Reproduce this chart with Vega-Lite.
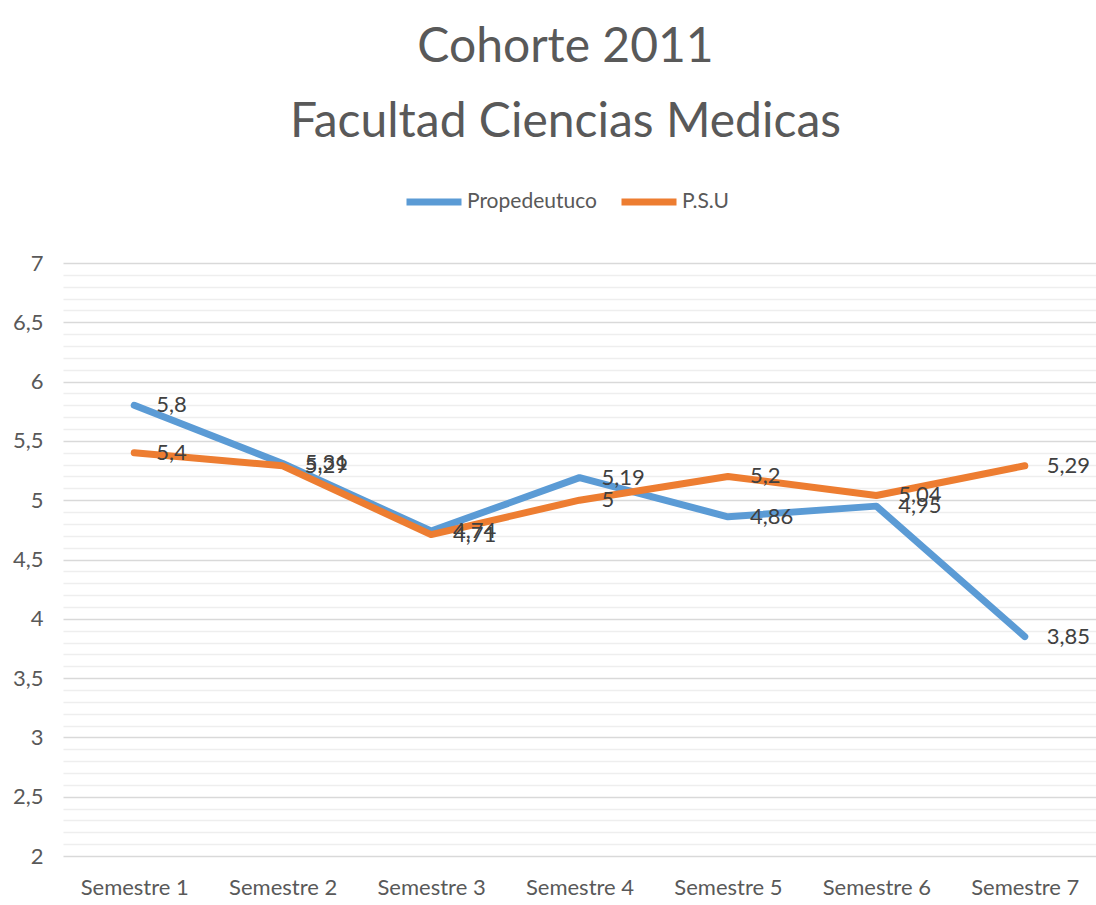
{
  "$schema": "https://vega.github.io/schema/vega-lite/v6.json",
  "width": 1033,
  "height": 593,
  "autosize": {"type": "none"},
  "padding": {"left": 63, "top": 263, "right": 0, "bottom": 49},
  "background": "white",
  "config": {
    "view": {"stroke": null},
    "font": "Lato",
    "locale": {"number": {"decimal": ",", "thousands": ".", "grouping": [3], "currency": ["$", ""]}}
  },
  "title": {
    "text": ["Cohorte 2011", "Facultad Ciencias Medicas"],
    "font": "Lato",
    "fontSize": 48,
    "fontWeight": "normal",
    "color": "#595959",
    "lineHeight": 75,
    "baseline": "alphabetic",
    "anchor": "middle",
    "frame": "group",
    "offset": -14,
    "dx": -14
  },
  "data": {
    "values": [
      {"semestre": "Semestre 1", "serie": "Propedeutuco", "valor": 5.8},
      {"semestre": "Semestre 2", "serie": "Propedeutuco", "valor": 5.31},
      {"semestre": "Semestre 3", "serie": "Propedeutuco", "valor": 4.74},
      {"semestre": "Semestre 4", "serie": "Propedeutuco", "valor": 5.19},
      {"semestre": "Semestre 5", "serie": "Propedeutuco", "valor": 4.86},
      {"semestre": "Semestre 6", "serie": "Propedeutuco", "valor": 4.95},
      {"semestre": "Semestre 7", "serie": "Propedeutuco", "valor": 3.85},
      {"semestre": "Semestre 1", "serie": "P.S.U", "valor": 5.4},
      {"semestre": "Semestre 2", "serie": "P.S.U", "valor": 5.29},
      {"semestre": "Semestre 3", "serie": "P.S.U", "valor": 4.71},
      {"semestre": "Semestre 4", "serie": "P.S.U", "valor": 5},
      {"semestre": "Semestre 5", "serie": "P.S.U", "valor": 5.2},
      {"semestre": "Semestre 6", "serie": "P.S.U", "valor": 5.04},
      {"semestre": "Semestre 7", "serie": "P.S.U", "valor": 5.29}
    ]
  },
  "encoding": {
    "x": {
      "field": "semestre",
      "type": "ordinal",
      "sort": null,
      "scale": {"type": "point", "padding": 0.48},
      "axis": {
        "title": null,
        "domain": false,
        "ticks": false,
        "grid": false,
        "labelAngle": 0,
        "labelFont": "Lato",
        "labelFontSize": 22,
        "labelColor": "#595959",
        "labelPadding": 21,
        "labelBaseline": "top"
      }
    },
    "y": {
      "field": "valor",
      "type": "quantitative",
      "scale": {"domain": [2, 7], "nice": false, "zero": false},
      "axis": {
        "title": null,
        "domain": false,
        "ticks": false,
        "values": [2, 2.1, 2.2, 2.3, 2.4, 2.5, 2.6, 2.7, 2.8, 2.9, 3, 3.1, 3.2, 3.3, 3.4, 3.5, 3.6, 3.7, 3.8, 3.9, 4, 4.1, 4.2, 4.3, 4.4, 4.5, 4.6, 4.7, 4.8, 4.9, 5, 5.1, 5.2, 5.3, 5.4, 5.5, 5.6, 5.7, 5.8, 5.9, 6, 6.1, 6.2, 6.3, 6.4, 6.5, 6.6, 6.7, 6.8, 6.9, 7],
        "labelExpr": "abs(datum.value*2 - round(datum.value*2)) < 0.001 ? replace(toString(datum.value), '.', ',') : ''",
        "labelOverlap": false,
        "labelFont": "Lato",
        "labelFontSize": 22,
        "labelColor": "#595959",
        "labelPadding": 20,
        "gridColor": {"condition": {"test": "abs(datum.value*2 - round(datum.value*2)) < 0.001", "value": "#D9D9D9"}, "value": "#EEEEEE"},
        "gridWidth": 1.5
      }
    },
    "color": {
      "field": "serie",
      "type": "nominal",
      "scale": {"domain": ["Propedeutuco", "P.S.U"], "range": ["#5B9BD5", "#ED7D31"]},
      "legend": {
        "title": null,
        "orient": "none",
        "direction": "horizontal",
        "legendX": 340,
        "legendY": -92,
        "symbolType": "stroke",
        "symbolSize": 3025,
        "symbolStrokeWidth": 7,
        "labelFont": "Lato",
        "labelFontSize": 21,
        "labelColor": "#595959",
        "labelOffset": 2,
        "columnPadding": 10
      }
    }
  },
  "layer": [
    {
      "transform": [{"filter": "datum.serie === 'Propedeutuco'"}],
      "mark": {"type": "line", "strokeWidth": 7, "strokeCap": "round", "strokeJoin": "round"}
    },
    {
      "transform": [{"filter": "datum.serie === 'P.S.U'"}],
      "mark": {"type": "line", "strokeWidth": 7, "strokeCap": "round", "strokeJoin": "round"}
    },
    {
      "mark": {"type": "text", "align": "left", "baseline": "middle", "dx": 22, "font": "Lato", "fontSize": 22},
      "encoding": {
        "text": {"field": "valor", "type": "quantitative", "format": ""},
        "color": {"value": "#404040"}
      }
    }
  ]
}
